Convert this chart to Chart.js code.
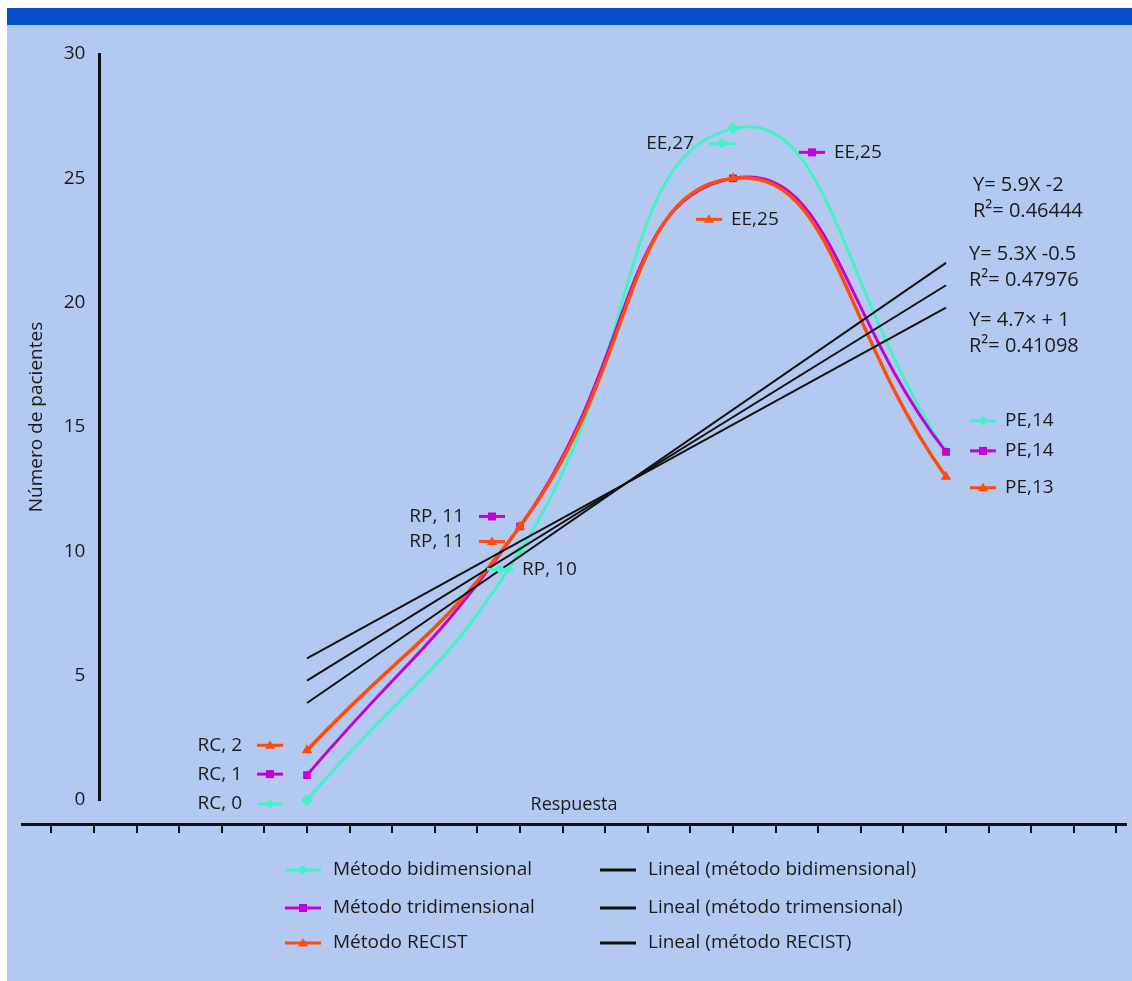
<!DOCTYPE html>
<html lang="es">

<head>
    <meta charset="UTF-8">
    <meta name="viewport" content="width=device-width, initial-scale=1.0">
    <title>Respuesta por método</title>
    <script src="https://cdn.jsdelivr.net/npm/chart.js"></script>
    <style>
        body {
            margin: 0;
            background: #ffffff;
        }

        #frame {
            position: absolute;
            left: 7px;
            top: 8px;
            width: 1125px;
            height: 973px;
            background: #b4c9ef;
        }

        #bar {
            height: 17px;
            background: #0650cc;
        }

        #chartBox {
            position: absolute;
            left: 0;
            top: 0;
            width: 1132px;
            height: 981px;
        }
    </style>
</head>

<body>
    <div id="frame"><div id="bar"></div></div>
    <div id="chartBox"><canvas id="respuestaChart"></canvas></div>

<script>
    // data
    const categories = ['RC', 'RP', 'EE', 'PE'];
    const categoryX = [1, 2, 3, 4];
    const bidimensional = [0, 10, 27, 14];
    const tridimensional = [1, 11, 25, 14];
    const recist = [2, 11, 25, 13];
    const seriesNames = ['Método bidimensional', 'Método tridimensional', 'Método RECIST'];

    const trendNames = ['Lineal (método bidimensional)', 'Lineal (método trimensional)', 'Lineal (método RECIST)'];
    const trendSlope = [5.9, 5.3, 4.7];
    const trendIntercept = [-2, -0.5, 1];
    const trendEquation = ['Y= 5.9X -2', 'Y= 5.3X -0.5', 'Y= 4.7× + 1'];
    const trendR2 = ['0.46444', '0.47976', '0.41098'];

    const labelSep = [', ', ', ', ',', ','];

    const FONT = '"Open Sans", sans-serif';
    const TEXT = '#1b1b1b';
    const colors = ['#44f2c8', '#c200dc', '#ff4b0c'];
    const markers = ['rectRot', 'rect', 'triangle'];

    // where the little keyed labels sit: [dx, dy, side] from the point
    const labelPlacement = [
        [[-37, 4, 'left'], [-20, 18, 'right'], [-11, 15, 'left'], [37, -31, 'right']],
        [[-37, -1, 'left'], [-28, -10, 'left'], [79, -26, 'right'], [37, -1, 'right']],
        [[-37, -5, 'left'], [-28, 15, 'left'], [-24, 41, 'right'], [37, 11, 'right']]
    ];
    const equationOffset = [[27, -78], [23, -31], [23, 13]];
    const legendCols = [285, 600];
    const legendRows = [870, 908, 943];

    const toPoints = (values) => values.map((v, i) => ({ x: categoryX[i], y: v }));
    const trendLine = (k) => [categoryX[0], categoryX[categoryX.length - 1]]
        .map((x) => ({ x: x, y: trendSlope[k] * x + trendIntercept[k] }));

    function marker(ctx, style, x, y, r, color) {
        ctx.save();
        ctx.fillStyle = color;
        ctx.beginPath();
        if (style === 'rectRot') {
            ctx.moveTo(x, y - r); ctx.lineTo(x + r, y); ctx.lineTo(x, y + r); ctx.lineTo(x - r, y);
        } else if (style === 'rect') {
            ctx.rect(x - r * 0.8, y - r * 0.8, r * 1.6, r * 1.6);
        } else if (style === 'triangle') {
            ctx.moveTo(x, y - r); ctx.lineTo(x + r, y + r * 0.7); ctx.lineTo(x - r, y + r * 0.7);
        }
        ctx.closePath();
        ctx.fill();
        ctx.restore();
    }

    function key(ctx, cx, cy, w, s) {
        ctx.save();
        ctx.strokeStyle = s < 3 ? colors[s] : '#111111';
        ctx.lineWidth = 3;
        ctx.beginPath();
        ctx.moveTo(cx - w / 2, cy);
        ctx.lineTo(cx + w / 2, cy);
        ctx.stroke();
        ctx.restore();
        if (s < 3) marker(ctx, markers[s], cx, cy, 5, colors[s]);
    }

    const annotations = {
        id: 'annotations',
        afterDatasetsDraw(chart) {
            const ctx = chart.ctx;
            ctx.save();
            ctx.font = '19px ' + FONT;
            ctx.fillStyle = TEXT;
            ctx.textBaseline = 'middle';

            // keyed value labels
            [bidimensional, tridimensional, recist].forEach((values, s) => {
                chart.getDatasetMeta(s).data.forEach((pt, i) => {
                    const [dx, dy, side] = labelPlacement[s][i];
                    const kx = pt.x + dx, ky = pt.y + dy;
                    key(ctx, kx, ky, 26, s);
                    const text = categories[i] + labelSep[i] + values[i];
                    ctx.textAlign = side === 'left' ? 'right' : 'left';
                    ctx.fillText(text, side === 'left' ? kx - 28 : kx + 22, ky);
                });
            });

            // trend equations
            ctx.textAlign = 'left';
            ctx.font = '20px ' + FONT;
            trendEquation.forEach((eq, k) => {
                const pts = chart.getDatasetMeta(3 + k).data;
                const end = pts[pts.length - 1];
                const x = end.x + equationOffset[k][0], y = end.y + equationOffset[k][1];
                ctx.fillText(eq, x, y);
                ctx.fillText('R²= ' + trendR2[k], x, y + 26);
            });

            // axis titles
            const xs = chart.scales.x, ys = chart.scales.y;
            const axisX = xs.getPixelForValue(ys.options.position.x);
            const axisY = ys.getPixelForValue(xs.options.position.y);
            ctx.font = '18px ' + FONT;
            ctx.textAlign = 'center';
            ctx.fillText('Respuesta', (chart.chartArea.left + chart.chartArea.right) / 2, axisY - 20);
            ctx.font = '19px ' + FONT;
            ctx.translate(axisX - 62, (ys.getPixelForValue(0) + ys.getPixelForValue(30)) / 2 - 10);
            ctx.rotate(-Math.PI / 2);
            ctx.fillText('Número de pacientes', 0, 0);
            ctx.restore();
        },
        afterDraw(chart) {
            const ctx = chart.ctx;
            ctx.save();
            ctx.font = '19px ' + FONT;
            ctx.fillStyle = TEXT;
            ctx.textBaseline = 'middle';
            ctx.textAlign = 'left';
            const names = seriesNames.concat(trendNames);
            names.forEach((name, n) => {
                const col = Math.floor(n / 3), row = n % 3;
                const x = legendCols[col], y = legendRows[row];
                key(ctx, x + 18, y, 36, n);
                ctx.fillText(name, x + 48, y);
            });
            ctx.restore();
        }
    };

    const series = [bidimensional, tridimensional, recist].map((values, s) => ({
        label: seriesNames[s],
        data: toPoints(values),
        borderColor: colors[s],
        backgroundColor: colors[s],
        borderWidth: s === 2 ? 3.5 : 3,
        pointStyle: markers[s],
        pointRadius: s === 1 ? 5.5 : 6,
        pointBorderWidth: 0,
        tension: 0.5,
        clip: false,
        order: 3 - s
    }));

    const trends = trendNames.map((name, k) => ({
        label: name,
        data: trendLine(k),
        borderColor: '#111111',
        borderWidth: 2,
        pointRadius: 0,
        clip: false,
        order: 0
    }));

    new Chart(document.getElementById('respuestaChart'), {
        type: 'line',
        data: { datasets: series.concat(trends) },
        options: {
            responsive: true,
            maintainAspectRatio: false,
            animation: false,
            layout: { padding: { left: 22, right: 6, top: 54, bottom: 181 } },
            plugins: { legend: { display: false }, tooltip: { enabled: false } },
            scales: {
                x: {
                    type: 'linear',
                    position: { y: -1 },
                    min: -0.338,
                    max: 4.845,
                    grid: { display: true, drawOnChartArea: false, drawTicks: true, tickLength: 7, color: '#111111', lineWidth: 2 },
                    border: { display: true, color: '#111111', width: 3 },
                    ticks: { display: false, stepSize: 0.2, includeBounds: false }
                },
                y: {
                    type: 'linear',
                    position: { x: 0.0235 },
                    min: 0,
                    max: 30,
                    grid: { display: false },
                    border: { display: true, color: '#111111', width: 3 },
                    ticks: { display: false, stepSize: 5 }
                },
                // same range, only carries the tick labels a little left of the axis line
                yLabels: {
                    type: 'linear',
                    axis: 'y',
                    position: { x: -0.04 },
                    min: 0,
                    max: 30,
                    grid: { display: false },
                    border: { display: false },
                    ticks: { stepSize: 5, color: TEXT, font: { family: FONT, size: 19 } }
                }
            }
        },
        plugins: [annotations]
    });
</script>
</body>

</html>
